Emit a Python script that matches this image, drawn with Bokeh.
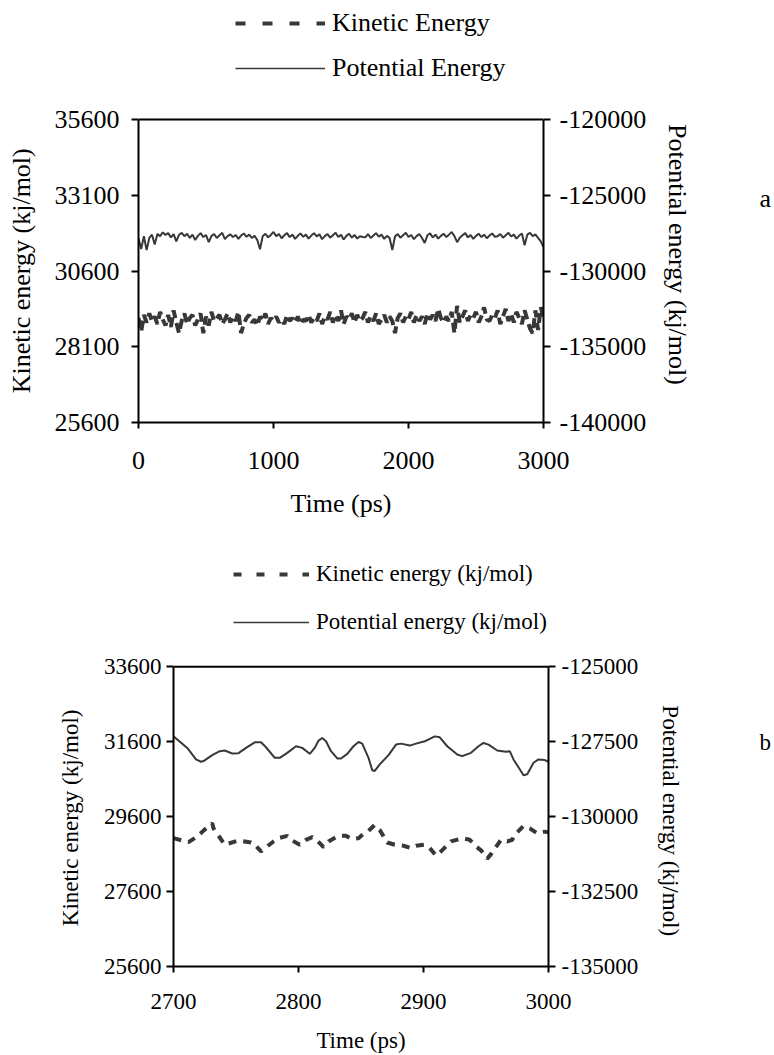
import math
from bokeh.plotting import figure
from bokeh.models import (LinearAxis, Range1d, Legend, LegendItem,
                          FixedTicker, BasicTickFormatter)
from bokeh.embed import file_html
from bokeh.resources import INLINE

FONT = "Liberation Serif"
INK = "#383838"
NB = "\u00a0"

# ---------------- data: panel a (0-3000 ps, 20 ps step) ----------------
time_a = list(range(0, 3001, 20))
potential_a = [
    -127850, -128550, -127700, -128620, -127820, -127600, -128250, -127550, -127700, -127450,
    -127620, -127500, -127780, -127560, -128050, -127620, -127480, -127700, -127540, -127820,
    -127600, -127950, -127680, -127500, -127760, -127620, -128100, -127700, -127560, -127820,
    -127640, -127480, -127900, -127700, -127580, -127760, -127620, -127880, -127660, -127520,
    -127740, -127600, -127820, -127680, -127950, -128560, -127700, -127540, -127780, -127620,
    -127420, -127700, -127560, -127840, -127640, -127500, -127760, -127600, -127880, -127680,
    -127520, -127740, -127600, -127860, -127660, -127500, -127720, -127580, -127900, -127700,
    -127560, -127800, -127640, -127480, -127760, -127600, -127920, -127680, -127540, -127800,
    -127620, -127860, -127700, -127760, -127780, -127560, -127820, -127660, -127500, -127740,
    -127600, -127880, -127680, -127820, -128620, -127720, -127560, -127800, -127640, -127480,
    -127760, -127620, -127900, -127700, -127560, -127820, -128150, -127640, -127520, -127780,
    -127600, -127860, -127680, -127540, -127760, -127600, -127420, -127700, -128100, -127800,
    -127640, -127500, -127780, -127620, -127880, -127680, -127540, -127760, -127600, -127840,
    -127660, -127520, -127740, -127700, -127560, -127800, -127640, -127480, -127720, -127600,
    -127860, -127660, -127520, -128300, -127600, -127480, -127700, -127580, -127820, -128050,
    -128400]
kinetic_a = [
    29050, 28600, 29150, 28900, 29200, 28950, 29100, 28850, 29250, 29000,
    28800, 29150, 28750, 29300, 28900, 28550, 28950, 29200, 28850, 29050,
    29150, 28800, 29000, 29200, 28550, 29100, 28800, 29250, 28950, 29050,
    29150, 28850, 29000, 29200, 28900, 29100, 28950, 29250, 28550, 28850,
    29050, 29150, 28900, 29000, 28800, 29100, 28950, 29200, 28850, 29050,
    28950, 29100, 28900, 29000, 28850, 29150, 28950, 29050, 28900, 29100,
    28850, 29000, 28950, 29150, 28900, 29050, 28950, 29200, 28850, 29100,
    29000, 29250, 28900, 29150, 28950, 29300, 28850, 29100, 29000, 29200,
    28900, 29150, 28950, 29050, 29250, 28900, 29100, 28950, 29200, 28850,
    29000, 29150, 28900, 29100, 28950, 28550, 29050, 29200, 28900, 29100,
    29000, 29250, 28900, 29150, 28950, 29100, 28850, 29200, 29000, 29150,
    28950, 29350, 29050, 28900, 29100, 28950, 29250, 28550, 29450, 28900,
    29100, 29300, 28950, 29150, 29050, 29250, 28900, 29100, 29400, 29000,
    28950, 29150, 29050, 29300, 28850, 29100, 29350, 28950, 29200, 28900,
    29250, 29050, 28850, 29300, 29000, 28700, 28550, 29300, 28650, 29400,
    29050]

# ---------------- data: panel b (2700-3000 ps) ----------------
time_b_pot = [2700, 2711, 2718, 2722, 2724, 2731, 2737, 2741, 2747, 2752,
              2758, 2765, 2770, 2774, 2781, 2785, 2791, 2798, 2803, 2809,
              2813, 2816, 2819, 2822, 2826, 2831, 2834, 2839, 2844, 2848,
              2851, 2856, 2859, 2861, 2865, 2872, 2878, 2882, 2889, 2894,
              2901, 2909, 2913, 2919, 2927, 2931, 2938, 2944, 2948, 2952,
              2959, 2966, 2969, 2972, 2977, 2980, 2983, 2988, 2992, 2997, 3000]
potential_b = [-127321, -127706, -128091, -128168, -128146, -127948, -127816, -127794, -127893, -127882,
               -127706, -127519, -127519, -127684, -128036, -128036, -127871, -127651, -127706, -127904,
               -127706, -127464, -127376, -127486, -127816, -128058, -128058, -127904, -127651, -127508,
               -127563, -128036, -128454, -128476, -128256, -127948, -127596, -127563, -127629, -127563,
               -127486, -127321, -127354, -127651, -127926, -127981, -127871, -127651, -127541, -127596,
               -127794, -127838, -127816, -128091, -128421, -128619, -128586, -128201, -128091, -128113,
               -128168]
time_b_kin = [2700, 2712, 2719, 2724, 2731, 2732, 2741, 2752, 2762, 2765,
              2770, 2780, 2784, 2791, 2794, 2801, 2806, 2811, 2817, 2820,
              2824, 2832, 2838, 2843, 2848, 2852, 2856, 2861, 2865, 2871,
              2877, 2884, 2890, 2894, 2901, 2905, 2910, 2914, 2922, 2931,
              2937, 2942, 2946, 2951, 2954, 2962, 2967, 2971, 2973, 2980,
              2985, 2991, 2997, 3000]
kinetic_b = [29026, 28920, 29070, 29228, 29421, 29289, 28850, 28964, 28911, 28850,
             28674, 28938, 29026, 29087, 28982, 28850, 28982, 29052, 28894, 28789,
             28938, 29087, 29087, 28999, 29026, 29140, 29219, 29377, 29245, 28911,
             28850, 28824, 28762, 28824, 28850, 28762, 28560, 28674, 28938, 29026,
             28982, 28806, 28701, 28480, 28600, 28982, 28938, 28982, 29113, 29351,
             29289, 29157, 29201, 29180]

ticks_x_a = [0, 1000, 2000, 3000]
ticks_kin_a = [25600, 28100, 30600, 33100, 35600]
ticks_pot_a = [-140000, -135000, -130000, -125000, -120000]
ticks_x_b = [2700, 2800, 2900, 3000]
ticks_kin_b = [25600, 27600, 29600, 31600, 33600]
ticks_pot_b = [-135000, -132500, -130000, -127500, -125000]


def style_axis(ax, fs, tick_out, standoff, label_standoff, ticks):
    ax.ticker = FixedTicker(ticks=ticks)
    ax.axis_line_color = "black"
    ax.axis_line_width = 2
    ax.major_tick_line_color = "black"
    ax.major_tick_line_width = 2
    ax.major_tick_out = tick_out
    ax.major_tick_in = 0
    ax.minor_tick_line_color = None
    ax.minor_tick_out = 0
    ax.major_label_text_font = FONT
    ax.major_label_text_font_size = fs
    ax.major_label_text_color = "black"
    ax.major_label_standoff = standoff
    ax.axis_label_text_font = FONT
    ax.axis_label_text_font_size = fs
    ax.axis_label_text_font_style = "normal"
    ax.axis_label_text_color = "black"
    ax.axis_label_standoff = label_standoff
    ax.formatter = BasicTickFormatter(use_scientific=False)
    ax.major_label_overrides = {t: str(t) for t in ticks}   # ASCII hyphen minus
    ax.bounds = (min(ticks), max(ticks))


def panel(width, height, borders, frame_h, box_h, xr, yr, pr, tx, tk, tp, fs,
          kin_label, pot_label, t_kin, kin, t_pot, pot, kin_dash, leg_dash,
          glyph_w, leg_loc, leg_h, leg_sp, letter, letter_standoff,
          x_stand, y_stand, pad_left, pad_right):
    bl, br, bt = borders
    # the frame also holds the legend above the plot box
    k_end = yr[0] + (yr[1] - yr[0]) * frame_h / box_h
    p_end = pr[0] + (pr[1] - pr[0]) * frame_h / box_h
    p = figure(width=width, height=height, x_range=Range1d(*xr), y_range=Range1d(yr[0], k_end),
               output_backend="svg", toolbar_location=None,
               min_border_left=bl, min_border_right=br, min_border_top=bt,
               min_border_bottom=height - bt - frame_h)
    p.extra_y_ranges = {"pot": Range1d(pr[0], p_end)}
    p.grid.visible = False
    p.outline_line_color = None

    p.xaxis.axis_label = "Time (ps)"
    style_axis(p.xaxis[0], fs, 6, x_stand[0], x_stand[1], tx)
    p.yaxis.axis_label = "Kinetic energy (kj/mol)" + NB * pad_left
    style_axis(p.yaxis[0], fs, 7, y_stand[0], y_stand[1], tk)

    rax = LinearAxis(y_range_name="pot", axis_label=NB * pad_right + "Potential energy (kj/mol)")
    style_axis(rax, fs, 7, y_stand[2], y_stand[3], tp)
    p.add_layout(rax, "right")

    # panel letter, placed as the label of an empty outer axis
    tag = LinearAxis(y_range_name="pot", axis_label=letter + "\n" + NB)
    tag.ticker = FixedTicker(ticks=[])
    tag.axis_line_color = None
    tag.major_tick_line_color = None
    tag.minor_tick_line_color = None
    tag.major_tick_out = 0
    tag.minor_tick_out = 0
    tag.major_label_standoff = 0
    tag.major_label_text_font_size = "0px"
    tag.axis_label_orientation = "horizontal"
    tag.axis_label_text_font = FONT
    tag.axis_label_text_font_size = fs
    tag.axis_label_text_font_style = "normal"
    tag.axis_label_text_color = "black"
    tag.axis_label_standoff = letter_standoff
    p.add_layout(tag, "right")

    # top edge of the plot box
    p.segment(x0=[xr[0]], y0=[yr[1]], x1=[xr[1]], y1=[yr[1]], line_color="black", line_width=2)

    p.line(t_pot, pot, y_range_name="pot", line_color=INK, line_width=2)
    p.line(t_kin, kin, line_color=INK, line_width=4, line_dash=kin_dash, line_cap="butt")

    # legend-only renderers (no data) to show the legend swatches
    nan = [float("nan")]
    lk = p.line(nan, nan, line_color=INK, line_width=4, line_dash=leg_dash, line_cap="butt")
    lp = p.line(nan, nan, line_color=INK, line_width=1.5)
    leg = Legend(items=[LegendItem(label=kin_label, renderers=[lk]),
                        LegendItem(label=pot_label, renderers=[lp])],
                 location=leg_loc, orientation="vertical",
                 glyph_width=glyph_w, glyph_height=leg_h, label_height=leg_h,
                 label_standoff=7, spacing=leg_sp, padding=0, margin=0,
                 border_line_color=None, background_fill_alpha=0,
                 label_text_font=FONT, label_text_font_size=fs, label_text_color="black")
    p.add_layout(leg, "center")
    return p


p1 = panel(774, 530, (138, 224, 8), 414, 303, (0, 3000), (25600, 35600), (-140000, -120000),
           ticks_x_a, ticks_kin_a, ticks_pot_a, "26px",
           "Kinetic Energy", "Potential Energy",
           time_a, kinetic_a, time_a, potential_a, "10 5", "10 17",
           90, (97, 339), 30, 15, "a", 64,
           (23, 17), (12, 16, 9, 14), 17, 12)

p2 = panel(774, 525, (173, 222, 18), 424, 304, (2700, 3000), (25600, 33600), (-135000, -125000),
           ticks_x_b, ticks_kin_b, ticks_pot_b, "23px",
           "Kinetic energy (kj/mol)", "Potential energy (kj/mol)",
           time_b_kin, kinetic_b, time_b_pot, potential_b, "8 7", "8 15",
           76, (60, 330), 28, 20, "b", 73,
           (21, 16), (5, 18, 6, 17), 21, 22)

open("out.html", "w").write(file_html([p1, p2], INLINE))
